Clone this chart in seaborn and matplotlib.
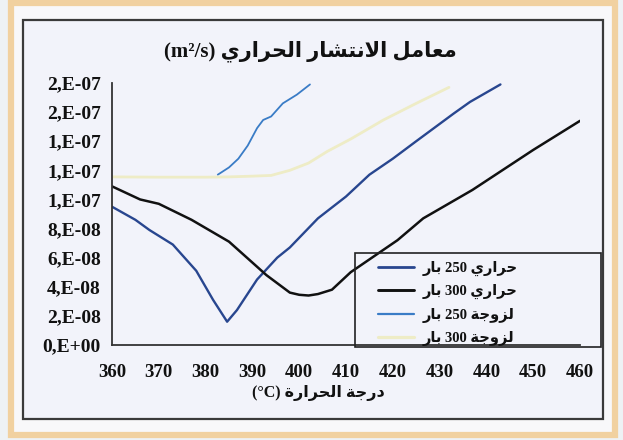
import numpy as np
import pandas as pd
import matplotlib
matplotlib.use("Agg")
import matplotlib.pyplot as plt
import seaborn as sns
from matplotlib.patches import Rectangle
from matplotlib.lines import Line2D
from matplotlib.ticker import FuncFormatter, MultipleLocator

# ---------------- data ----------------
temp_thermal_250 = [360, 365, 368, 373, 378, 381.6, 384.6, 386.7, 391, 395.3, 398, 404,
                    410, 415, 420, 425, 433, 436.5, 443]
diff_thermal_250 = [9.5e-8, 8.6e-8, 7.9e-8, 6.9e-8, 5.1e-8, 3.1e-8, 1.6e-8, 2.4e-8, 4.5e-8,
                    6.0e-8, 6.7e-8, 8.7e-8, 1.02e-7, 1.17e-7, 1.28e-7, 1.40e-7, 1.59e-7,
                    1.67e-7, 1.79e-7]

temp_thermal_300 = [360, 366, 370, 377, 385, 393, 398, 400, 402, 404, 407, 411, 421, 426.5,
                    437, 450, 460]
diff_thermal_300 = [1.09e-7, 1.0e-7, 9.7e-8, 8.6e-8, 7.1e-8, 4.8e-8, 3.6e-8, 3.45e-8,
                    3.4e-8, 3.5e-8, 3.8e-8, 5.0e-8, 7.2e-8, 8.7e-8, 1.065e-7, 1.34e-7, 1.54e-7]

temp_visc_250 = [382.6, 385, 387, 389, 391, 392.3, 394, 396.5, 399.5, 402.3]
diff_visc_250 = [1.17e-7, 1.22e-7, 1.28e-7, 1.37e-7, 1.49e-7, 1.546e-7, 1.57e-7, 1.66e-7,
                 1.72e-7, 1.79e-7]

temp_visc_300 = [360, 370, 380, 385, 390, 394, 398, 402, 406, 411, 418, 425, 432]
diff_visc_300 = [1.155e-7, 1.153e-7, 1.153e-7, 1.155e-7, 1.16e-7, 1.165e-7, 1.20e-7,
                 1.25e-7, 1.33e-7, 1.415e-7, 1.546e-7, 1.66e-7, 1.77e-7]

series_labels = ["حراري 250 بار", "حراري 300 بار", "لزوجة 250 بار", "لزوجة 300 بار"]
series_colors = ["#28468f", "#111111", "#3a7cc6", "#eeecc6"]
series_widths = [1.7, 1.8, 1.3, 2.0]

title_text = "معامل الانتشار الحراري (m²/s)"
xlabel_text = "درجة الحرارة (°C)"
x_ticks = [360, 370, 380, 390, 400, 410, 420, 430, 440, 450, 460]

# ---------------- Arabic shaping for display ----------------
_FORMS = {  # isolated, final, initial, medial
    "\u0627": ("\uFE8D", "\uFE8E", None, None),
    "\u0628": ("\uFE8F", "\uFE90", "\uFE91", "\uFE92"),
    "\u0629": ("\uFE93", "\uFE94", None, None),
    "\u062A": ("\uFE95", "\uFE96", "\uFE97", "\uFE98"),
    "\u062C": ("\uFE9D", "\uFE9E", "\uFE9F", "\uFEA0"),
    "\u062D": ("\uFEA1", "\uFEA2", "\uFEA3", "\uFEA4"),
    "\u062F": ("\uFEA9", "\uFEAA", None, None),
    "\u0631": ("\uFEAD", "\uFEAE", None, None),
    "\u0632": ("\uFEAF", "\uFEB0", None, None),
    "\u0634": ("\uFEB5", "\uFEB6", "\uFEB7", "\uFEB8"),
    "\u0639": ("\uFEC9", "\uFECA", "\uFECB", "\uFECC"),
    "\u0644": ("\uFEDD", "\uFEDE", "\uFEDF", "\uFEE0"),
    "\u0645": ("\uFEE1", "\uFEE2", "\uFEE3", "\uFEE4"),
    "\u0646": ("\uFEE5", "\uFEE6", "\uFEE7", "\uFEE8"),
    "\u0648": ("\uFEED", "\uFEEE", None, None),
    "\u064A": ("\uFEF1", "\uFEF2", "\uFEF3", "\uFEF4"),
    "LA": ("\uFEFB", "\uFEFC", None, None),
}


def _shape_word(word):
    units = []
    i = 0
    while i < len(word):
        if word[i] == "\u0644" and i + 1 < len(word) and word[i + 1] == "\u0627":
            units.append("LA")
            i += 2
        else:
            units.append(word[i])
            i += 1
    out = []
    for k, u in enumerate(units):
        forms = _FORMS[u]
        prev_joins = k > 0 and _FORMS[units[k - 1]][2] is not None
        next_joins = forms[2] is not None and k + 1 < len(units)
        if prev_joins and next_joins:
            g = forms[3]
        elif prev_joins:
            g = forms[1]
        elif next_joins:
            g = forms[2]
        else:
            g = forms[0]
        out.append(g)
    return "".join(reversed(out))


def rtl(text):
    tokens = []
    cur, kind = "", None
    for ch in text:
        k = "ar" if ch in _FORMS else ("sp" if ch == " " else "lt")
        if k != kind or k == "sp":
            if cur:
                tokens.append((kind, cur))
            cur, kind = ch, k
        else:
            cur += ch
    if cur:
        tokens.append((kind, cur))
    return "".join(_shape_word(t) if k == "ar" else t for k, t in reversed(tokens))


# ---------------- figure ----------------
sns.set_style("white")
plt.rcParams["font.family"] = ["Liberation Serif", "DejaVu Sans"]
plt.rcParams["font.weight"] = "bold"

W, H = 623, 440
fig = plt.figure(figsize=(W / 100, H / 100), dpi=100)
fig.patch.set_facecolor("#eef2f5")


def px_rect(x0, y0, x1, y1, **kw):
    return Rectangle((x0 / W, 1 - y1 / H), (x1 - x0) / W, (y1 - y0) / H,
                     transform=fig.transFigure, figure=fig, **kw)


fig.patches.append(px_rect(11, 3, 615, 435, facecolor="#f8f8fa", edgecolor="#f1d1a0",
                           linewidth=4.5, zorder=-3))
fig.patches.append(px_rect(23, 20, 603, 419, facecolor="#f2f3fa", edgecolor="#3a3a3a",
                           linewidth=1.6, zorder=-2))

ax = fig.add_axes([112 / W, 1 - 345 / H, (580 - 112) / W, (345 - 83) / H])
ax.set_facecolor("none")

frames = []
for t, v, lab in zip([temp_thermal_250, temp_thermal_300, temp_visc_250, temp_visc_300],
                     [diff_thermal_250, diff_thermal_300, diff_visc_250, diff_visc_300],
                     series_labels):
    frames.append(pd.DataFrame({"T": t, "D": v, "series": lab}))
df = pd.concat(frames, ignore_index=True)

for lab, col, lw in zip(series_labels, series_colors, series_widths):
    sub = df[df["series"] == lab]
    sns.lineplot(data=sub, x="T", y="D", color=col, linewidth=lw, ax=ax,
                 sort=False, estimator=None, legend=False)

ax.set_xlim(360, 460)
ax.set_ylim(0, 1.8e-7)
ax.set_xticks(x_ticks)
ax.yaxis.set_major_locator(MultipleLocator(2e-8))


def excel_sci(v, pos):
    s = f"{abs(v):.0e}"
    mant, exp = s.split("e")
    return f"{mant},E{exp[0]}{exp[1:]}"


ax.yaxis.set_major_formatter(FuncFormatter(excel_sci))
ax.set_xlabel("")
ax.set_ylabel("")
for side in ["top", "right"]:
    ax.spines[side].set_visible(False)
for side in ["left", "bottom"]:
    ax.spines[side].set_color("#333333")
    ax.spines[side].set_linewidth(1.3)
ax.tick_params(axis="x", direction="inout", length=6, width=1.2, color="#333333",
               pad=11, labelsize=13.5, labelcolor="#111111")
ax.tick_params(axis="y", direction="out", length=5, width=1.2, color="#333333",
               pad=3, labelsize=14, labelcolor="#111111")
for lbl in ax.get_xticklabels() + ax.get_yticklabels():
    lbl.set_fontweight("bold")

fig.text(310 / W, 1 - 51 / H, rtl(title_text), ha="center", va="center",
         fontsize=15, fontweight="bold", color="#111111")
fig.text(318 / W, 1 - 393 / H, rtl(xlabel_text), ha="center", va="center",
         fontsize=11.5, fontweight="bold", color="#111111")

# legend box and entries
fig.patches.append(px_rect(355, 253, 601, 347, facecolor="none", edgecolor="#222222",
                           linewidth=1.2, zorder=4))
handles = [Line2D([], [], color=c, linewidth=lw + 0.3) for c, lw in zip(series_colors, series_widths)]
leg = ax.legend(handles, [rtl(s) for s in series_labels], loc="upper left",
                bbox_to_anchor=(366 / W, 1 - 249 / H), bbox_transform=fig.transFigure,
                frameon=False, fontsize=10.5, handlelength=2.5, handletextpad=0.6,
                labelspacing=0.58, borderpad=0.3)
for t in leg.get_texts():
    t.set_fontweight("bold")
    t.set_color("#111111")

fig.savefig("out.png", dpi=100, facecolor=fig.get_facecolor())
